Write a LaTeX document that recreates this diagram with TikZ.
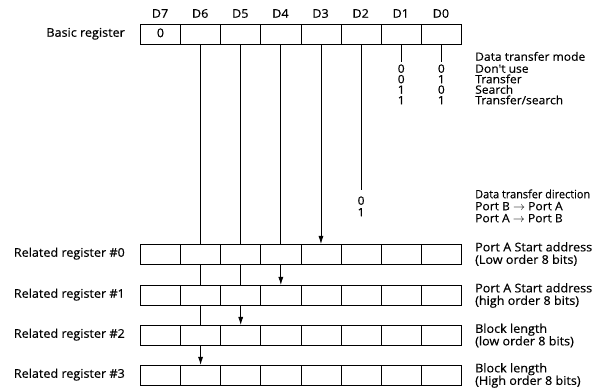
\documentclass[tikz,border=0pt]{standalone}
\usepackage{fontspec}
\setmainfont{Open Sans}
\newfontfamily\diagfont[FakeStretch=1.05,FakeBold=0.4]{Open Sans}
\newfontfamily\narrowfont[FakeStretch=0.95,FakeBold=0.4]{Open Sans}
\usetikzlibrary{arrows.meta,backgrounds}
\begin{document}
\begin{tikzpicture}[x=1pt,y=-1pt,
  cell/.style={draw,line width=0.8pt,fill=white,minimum width=40.125pt,minimum height=20pt,inner sep=0pt,anchor=north west},
  lbl/.style={font=\diagfont\fontsize{12}{12}\selectfont,inner sep=0pt,text height=7.5pt,text depth=2pt},
  tlbl/.style={font=\diagfont\fontsize{11.5}{11}\selectfont,inner sep=0pt,text height=7.5pt,text depth=2pt,anchor=west},
  rlbl/.style={font=\diagfont\fontsize{12}{12.5}\selectfont,inner sep=0pt,anchor=west,align=left},
  wire/.style={line width=0.8pt},
  arr/.style={wire,-{Latex[length=8pt,width=5pt]}}
]
\useasboundingbox (0,0) rectangle (595,390);
% basic register
\foreach \k in {0,...,7} {
  \pgfmathtruncatemacro\b{7-\k}
  \node[cell] (b\b) at ({140+40.125*\k},24) {};
  \node[lbl] (t\b) at ({160.06+40.125*\k},15) {D\b};
}
\node[lbl] (z7) at (b7.center) {0};
\node[lbl,anchor=east] (lb) at (125,34) {Basic register};
% related registers
\foreach \r/\y in {0/244,1/285,2/325,3/365} {
  \foreach \k in {0,...,7} {
    \pgfmathtruncatemacro\b{7-\k}
    \node[cell] (r\r c\b) at ({140+40.125*\k},\y) {};
  }
  \node[lbl,anchor=east] (lr\r) at (125,\y+10) {Related register \#\r};
}
\node[rlbl] (n0) at (475,254) {Port A Start address\\(Low order 8 bits)};
\node[rlbl] (n1) at (475,295.5) {Port A Start address\\(high order 8 bits)};
\node[rlbl] (n2) at (475,335.5) {Block length\\(low order 8 bits)};
\node[rlbl] (n3) at (475,375.5) {Block length\\(High order 8 bits)};
% free ends
\coordinate (e1) at (b1.center |- 0,62);
\coordinate (e0) at (b0.center |- 0,62);
\coordinate (e2) at (b2.center |- 0,190);
% data transfer mode table
\node[tlbl] (m0) at (475,58) {Data transfer mode};
\node[tlbl] (m1) at (475,70) {Don't use};
\node[tlbl] (m2) at (475,80.5) {Transfer};
\node[tlbl] (m3) at (475,91) {Search};
\node[tlbl] (m4) at (475,101.5) {Transfer/search};
\foreach \y/\p/\q [count=\i] in {70/0/0,80.5/0/1,91/1/0,101.5/1/1} {
  \node[tlbl,anchor=center] (p\i) at (b1.center |- 0,\y) {\p};
  \node[tlbl,anchor=center] (q\i) at (b0.center |- 0,\y) {\q};
}
% data transfer direction
\node[tlbl,font=\narrowfont\fontsize{11.5}{11}\selectfont] (d0) at (475,195.5) {Data transfer direction};
\node[tlbl] (d1) at (475,207.5) {Port B $\rightarrow$ Port A};
\node[tlbl] (d2) at (475,219.5) {Port A $\rightarrow$ Port B};
\node[tlbl,anchor=center] (s1) at (b2.center |- 0,202) {0};
\node[tlbl,anchor=center] (s2) at (b2.center |- 0,213.5) {1};
% wires
\begin{scope}[on background layer]
  \draw[arr] (b6.south) -- (r3c6.north);
  \draw[arr] (b5.south) -- (r2c5.north);
  \draw[arr] (b4.south) -- (r1c4.north);
  \draw[arr] (b3.south) -- (r0c3.north);
  \draw[wire] (b2.south) -- (e2);
  \draw[wire] (b1.south) -- (e1);
  \draw[wire] (b0.south) -- (e0);
\end{scope}
\end{tikzpicture}
\end{document}
